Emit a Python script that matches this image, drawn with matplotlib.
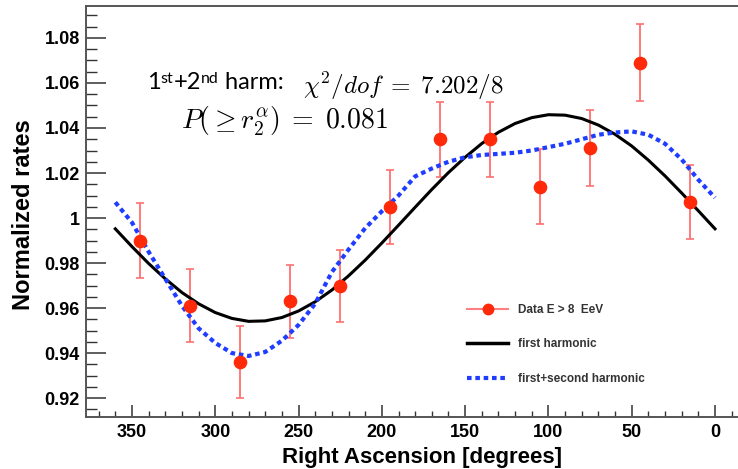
import numpy as np
import matplotlib
matplotlib.use('Agg')
import matplotlib.pyplot as plt
from matplotlib.lines import Line2D
from matplotlib.ticker import MultipleLocator, FuncFormatter

# measured rates, right ascension bins (degrees)
ra = [345, 315, 285, 255, 225, 195, 165, 135, 105, 75, 45, 15]
rate = [0.990, 0.961, 0.936, 0.963, 0.970, 1.005, 1.035, 1.035, 1.014, 1.031, 1.069, 1.007]
rate_err = [0.0165, 0.0162, 0.0160, 0.0163, 0.0160, 0.0165, 0.0167, 0.0167, 0.0166, 0.0168, 0.0170, 0.0165]

# fitted curves every 10 degrees
curve_ra = [360, 350, 340, 330, 320, 310, 300, 290, 280, 270, 260, 250, 240,
            230, 220, 210, 200, 190, 180, 170, 160, 150, 140, 130, 120, 110,
            100, 90, 80, 70, 60, 50, 40, 30, 20, 10, 0]
first_harm = [0.9952, 0.9873, 0.9798, 0.9730, 0.9669, 0.9619, 0.9580, 0.9554, 0.9541,
              0.9543, 0.9558, 0.9587, 0.9628, 0.9680, 0.9743, 0.9813, 0.9889, 0.9968,
              1.0048, 1.0127, 1.0202, 1.0270, 1.0331, 1.0381, 1.0420, 1.0446, 1.0459,
              1.0457, 1.0442, 1.0413, 1.0372, 1.0320, 1.0257, 1.0187, 1.0111, 1.0032,
              0.9952]
second_harm = [1.007, 0.998, 0.985, 0.973, 0.961, 0.951, 0.9445, 0.940, 0.9387,
               0.9405, 0.9455, 0.9525, 0.962, 0.976, 0.986, 0.9955, 1.003, 1.010,
               1.0185, 1.022, 1.025, 1.027, 1.028, 1.0285, 1.029, 1.030, 1.0315,
               1.033, 1.035, 1.037, 1.038, 1.0385, 1.037, 1.033, 1.026, 1.017,
               1.009]

W, H = 738, 469
plt.rcParams['mathtext.fontset'] = 'cm'

def px(x, y):
    # pixel position -> figure fraction
    return x / W, 1 - y / H

fig = plt.figure(figsize=(W / 100, H / 100), dpi=100)
ax = fig.add_axes([86 / W, 1 - 417 / H, 1 - 86 / W, 411 / H])

ax.errorbar(ra, rate, yerr=rate_err, fmt='none', ecolor='#ff7070', elinewidth=1.3,
            capsize=3, capthick=1.2, zorder=2)
ax.plot(curve_ra, first_harm, color='black', lw=2.2, zorder=3)
ax.plot(curve_ra, second_harm, color='#1f3dff', lw=3, linestyle=(0, (1.1, 0.9)), zorder=3)
ax.plot(ra, rate, 'o', color='#ff2a0a', ms=8.8, mec='#ff2a0a', zorder=4)

ax.set_xlim(377.6, -13.8)
ax.set_ylim(0.9116, 1.0942)

ax.xaxis.set_major_locator(MultipleLocator(50))
ax.xaxis.set_minor_locator(MultipleLocator(10))
ax.yaxis.set_major_locator(MultipleLocator(0.02))
ax.yaxis.set_minor_locator(MultipleLocator(0.005))
ax.yaxis.set_major_formatter(FuncFormatter(lambda v, p: '%g' % round(v, 3)))
ax.xaxis.set_major_formatter(FuncFormatter(lambda v, p: '%d' % v))

ax.tick_params(axis='y', which='major', direction='in', length=14.4, width=1.1, color='#333333', pad=4.5)
ax.tick_params(axis='y', which='minor', direction='in', length=7.9, width=1.0, color='#333333')
ax.tick_params(axis='x', which='major', direction='in', length=8.6, width=1.1, color='#333333', pad=5)
ax.tick_params(axis='x', which='minor', direction='in', length=4.3, width=1.0, color='#333333')
for t in ax.get_xticklabels() + ax.get_yticklabels():
    t.set_fontfamily('Liberation Sans')
    t.set_fontweight('bold')
    t.set_fontsize(13)

for s in ['left', 'bottom', 'top']:
    ax.spines[s].set_color('#555555')
    ax.spines[s].set_linewidth(1.4)
ax.spines['right'].set_visible(False)

ax.set_xlabel('Right Ascension [degrees]', fontsize=16, family='Liberation Sans',
              weight='bold', va='baseline')
ax.set_ylabel('Normalized rates', fontsize=17, family='Liberation Sans',
              weight='bold', va='baseline')
ax.xaxis.set_label_coords(0.516, -0.1119)
ax.yaxis.set_label_coords(-0.0859, 0.4915)

# legend without frame
handles = [
    Line2D([], [], color='#ff8080', lw=1.5, marker='o', ms=7.5, mfc='#ff2a0a', mec='#ff2a0a'),
    Line2D([], [], color='black', lw=2.5),
    Line2D([], [], color='#1f3dff', lw=3, linestyle=(0, (1.1, 0.9))),
]
labels = ['Data E > 8  EeV', 'first harmonic', 'first+second harmonic']
leg = ax.legend(handles, labels, loc='upper left', bbox_to_anchor=px(467, 304),
                bbox_transform=fig.transFigure, frameon=False, borderpad=0,
                borderaxespad=0, handlelength=3.5, handletextpad=0.85,
                labelspacing=1.9, prop=dict(family='Liberation Sans', weight='bold', size=8.5))
for t in leg.get_texts():
    t.set_color('#333333')

# fit annotation
sans = 'Lato'
t1 = fig.text(*px(147, 93), '1', fontsize=17, family=sans, va='bottom')
s1 = ax.annotate('st', xy=(1, 1), xycoords=t1, va='top', ha='left', fontsize=11.5,
                 family=sans, annotation_clip=False)
t2 = ax.annotate('+2', xy=(1, 0), xycoords=(s1, t1), va='bottom', ha='left', fontsize=17,
                 family=sans, annotation_clip=False)
s2 = ax.annotate('nd', xy=(1, 1), xycoords=t2, va='top', ha='left', fontsize=11.5,
                 family=sans, annotation_clip=False)
ax.annotate(' harm:', xy=(1, 0), xycoords=(s2, t1), va='bottom', ha='left', fontsize=17,
            family=sans, annotation_clip=False)

fig.text(*px(303, 94), r'$\chi^2/dof\;=\;7.202/8$', fontsize=18, va='baseline')
fig.text(*px(181, 129), r'$P(\geq r_2^{\alpha})\;=\;0.081$', fontsize=20, va='baseline')

fig.savefig('out.png', dpi=100)
